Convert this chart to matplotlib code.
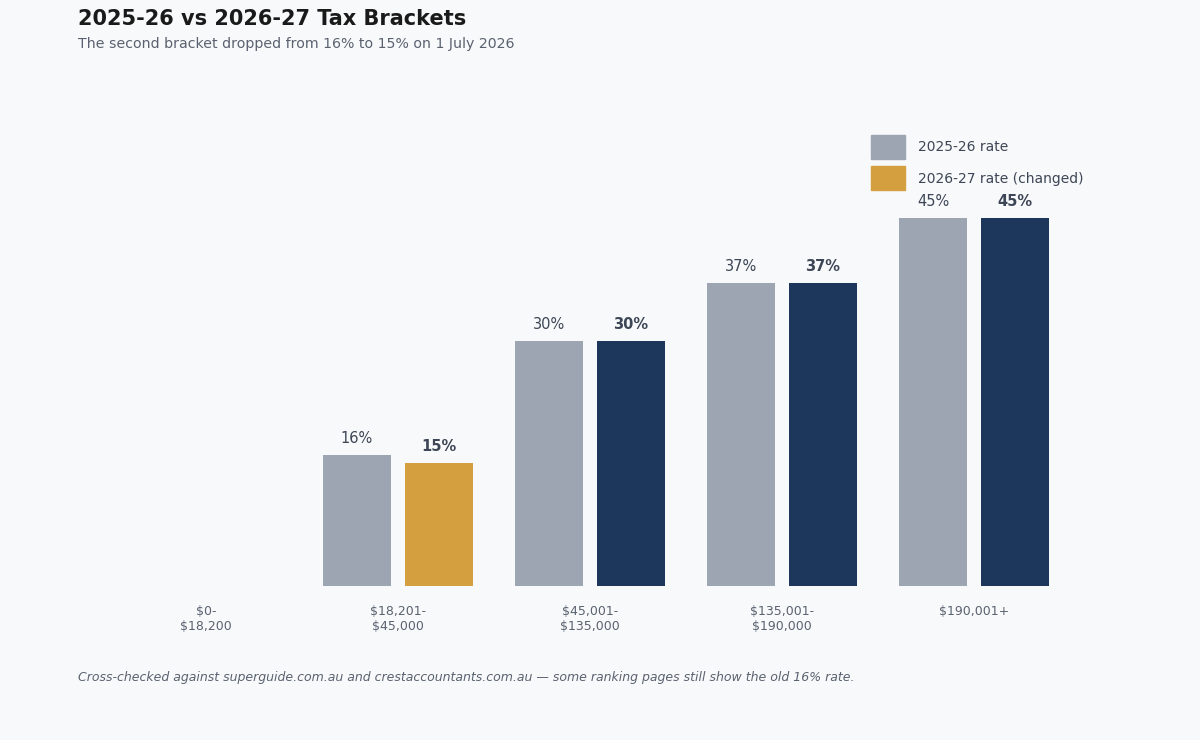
import matplotlib
matplotlib.use("Agg")
import matplotlib.pyplot as plt
from matplotlib.patches import Patch
import numpy as np

# data
brackets = ["$0-\n$18,200", "$18,201-\n$45,000", "$45,001-\n$135,000",
            "$135,001-\n$190,000", "$190,001+"]
rate_2526 = [0, 16, 30, 37, 45]
rate_2627 = [0, 15, 30, 37, 45]
changed = [False, True, False, False, False]

bg = "#F8F9FA"
c_old = "#9CA5B1"
c_new = "#1C375B"
c_chg = "#D4A03F"
txt_dark = "#3D4656"
txt_mid = "#5A6270"

fig = plt.figure(figsize=(12, 7.4), dpi=100, facecolor=bg)
ax = fig.add_axes([110/1200, 1-586/740, 960/1200, (586-177)/740])
ax.set_facecolor(bg)

x = np.arange(len(brackets))
w = 0.35
off = 0.2135
new_cols = [c_chg if c else c_new for c in changed]

ax.bar(x - off, rate_2526, w, color=c_old, label="2025-26 rate")
ax.bar(x + off, rate_2627, w, color=new_cols, label="2026-27 rate (changed)")

for xi, v in zip(x, rate_2526):
    if v > 0:
        ax.annotate(f"{v}%", (xi - off, v), xytext=(0, 6.5), textcoords="offset points",
                    ha="center", va="bottom", fontsize=10.5, color=txt_dark)
for xi, v in zip(x, rate_2627):
    if v > 0:
        ax.annotate(f"{v}%", (xi + off, v), xytext=(0, 6.5), textcoords="offset points",
                    ha="center", va="bottom", fontsize=10.5, color=txt_dark,
                    fontweight="bold")

ax.set_xlim(-0.5, len(brackets) - 0.5)
ax.set_ylim(0, 50)
ax.set_xticks(x)
ax.set_xticklabels(brackets, fontsize=9, color=txt_mid)
ax.tick_params(axis="x", length=0, pad=14)
ax.set_yticks([])
for s in ax.spines.values():
    s.set_visible(False)

handles = [Patch(color=c_old), Patch(color=c_chg)]
fig.legend(handles, ["2025-26 rate", "2026-27 rate (changed)"],
           loc="upper left", bbox_to_anchor=(858/1200, 1-122/740),
           frameon=False, fontsize=10, labelcolor=txt_dark,
           handlelength=2.45, handleheight=2.3, labelspacing=0.55,
           handletextpad=1.0)

fig.text(78/1200, 1-19/740, "2025-26 vs 2026-27 Tax Brackets", fontsize=15,
         fontweight="bold", color="#1A1A1A", va="center")
fig.text(78/1200, 1-44/740, "The second bracket dropped from 16% to 15% on 1 July 2026",
         fontsize=10.2, color=txt_mid, va="center")
fig.text(78/1200, 1-677/740,
         "Cross-checked against superguide.com.au and crestaccountants.com.au \u2014 some ranking pages still show the old 16% rate.",
         fontsize=9, style="italic", color=txt_mid, va="center")

fig.savefig("out.png", dpi=100, facecolor=bg)
